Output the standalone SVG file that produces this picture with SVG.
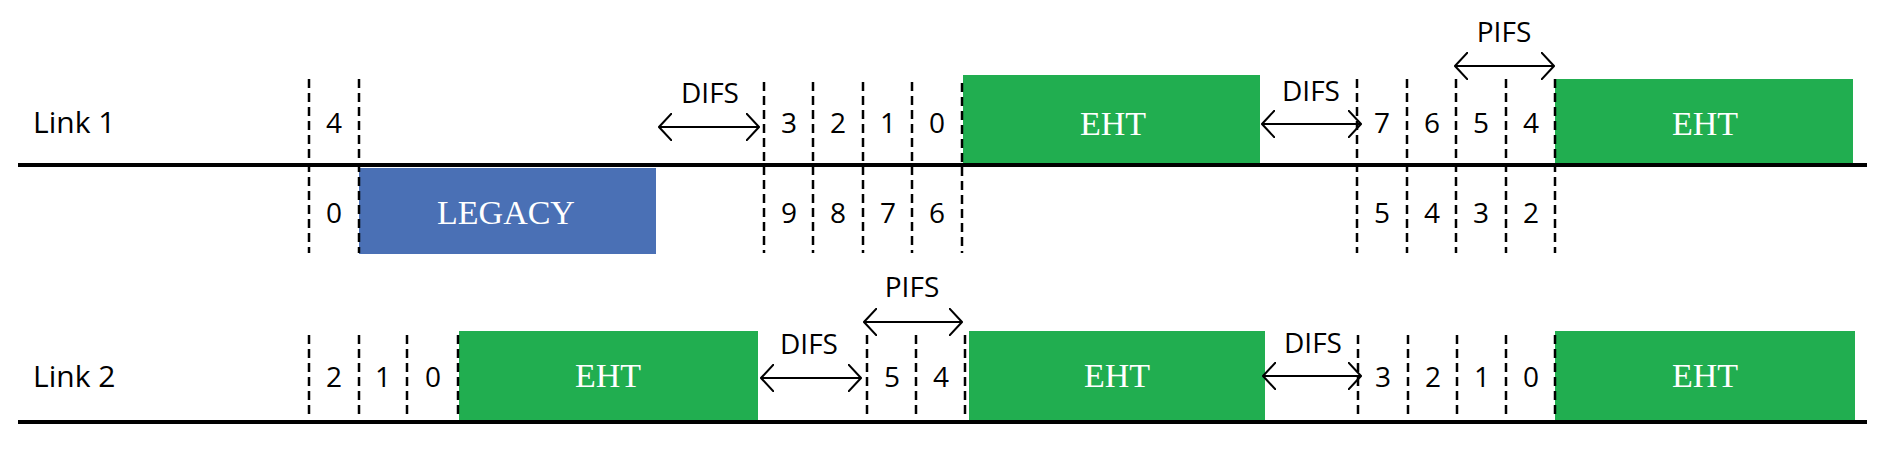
<svg xmlns="http://www.w3.org/2000/svg" width="1894" height="450" viewBox="0 0 1894 450">
<defs>
<style>
.d{stroke:#000;stroke-width:2.5;stroke-dasharray:9,5;fill:none}
.h{stroke:#000;stroke-width:4}
.a{stroke:#000;stroke-width:2;fill:none}
.n{font-family:"Open Sans","Liberation Sans",sans-serif;font-size:28px;text-anchor:middle;fill:#000}
.l{font-family:"Open Sans","Liberation Sans",sans-serif;font-size:30px;fill:#000}
.s{font-family:"Open Sans","Liberation Sans",sans-serif;font-size:28px;text-anchor:middle;fill:#000}
.b{font-family:"Liberation Serif",serif;font-size:34px;text-anchor:middle;fill:#fff}
.g{fill:#21ae50}
</style>
<marker id="m" viewBox="0 0 14 28" refX="13" refY="14" markerWidth="14" markerHeight="28" markerUnits="userSpaceOnUse" orient="auto-start-reverse"><path d="M0,0 L13,14 L0,28" fill="none" stroke="#000" stroke-width="2"/></marker>
</defs>
<g id="boxes">
<rect id="legacy" x="359" y="168" width="297" height="86" fill="#4a70b5"/>
<rect id="eht1" class="g" x="963" y="75" width="297" height="88"/>
<rect id="eht2" class="g" x="1555" y="79" width="298" height="84"/>
<rect id="eht3" class="g" x="459" y="331" width="299" height="90"/>
<rect id="eht4" class="g" x="969" y="331" width="296" height="89"/>
<rect id="eht5" class="g" x="1555" y="331" width="300" height="89"/>
<text class="b" x="506" y="224">LEGACY</text>
<text class="b" x="1113" y="135">EHT</text>
<text class="b" x="1705" y="135">EHT</text>
<text class="b" x="608" y="387">EHT</text>
<text class="b" x="1117" y="387">EHT</text>
<text class="b" x="1705" y="387">EHT</text>
</g>
<g id="connectors">
<line class="h" x1="18" y1="165" x2="1867" y2="165"/>
<line class="h" x1="18" y1="422" x2="1867" y2="422"/>
<path class="d" d="M309,79V253M359,79V253M764,82V253M813,82V253M863,82V253M912,82V253M962,83V253M1357,79V253M1407,79V253M1456,79V253M1506,79V253M1555,79V253"/>
<path class="d" d="M309,335V418M359,335V418M407,335V418M458,335V418M867,335V418M916,335V418M965,335V418M1358,335V418M1408,335V418M1457,335V418M1506,335V418M1555,335V418"/>
<line class="a" x1="659" y1="127" x2="759" y2="127" marker-start="url(#m)" marker-end="url(#m)"/>
<line class="a" x1="1262" y1="124" x2="1361" y2="124" marker-start="url(#m)" marker-end="url(#m)"/>
<line class="a" x1="1455" y1="66" x2="1554" y2="66" marker-start="url(#m)" marker-end="url(#m)"/>
<line class="a" x1="864" y1="322" x2="962" y2="322" marker-start="url(#m)" marker-end="url(#m)"/>
<line class="a" x1="761" y1="378" x2="861" y2="378" marker-start="url(#m)" marker-end="url(#m)"/>
<line class="a" x1="1263" y1="376" x2="1361" y2="376" marker-start="url(#m)" marker-end="url(#m)"/>
</g>
<g id="labels">
<text class="l" x="33" y="133">Link 1</text>
<text class="l" x="33" y="387">Link 2</text>
<text class="s" x="710" y="103">DIFS</text>
<text class="s" x="1311" y="101">DIFS</text>
<text class="s" x="1504" y="42">PIFS</text>
<text class="s" x="912" y="297">PIFS</text>
<text class="s" x="809" y="354">DIFS</text>
<text class="s" x="1313" y="353">DIFS</text>
</g>
<g id="counters">
<text class="n" x="334" y="133">4</text>
<text class="n" x="789" y="133">3</text><text class="n" x="838" y="133">2</text><text class="n" x="888" y="133">1</text><text class="n" x="937" y="133">0</text>
<text class="n" x="1382" y="133">7</text><text class="n" x="1432" y="133">6</text><text class="n" x="1481" y="133">5</text><text class="n" x="1531" y="133">4</text>
<text class="n" x="334" y="223">0</text>
<text class="n" x="789" y="223">9</text><text class="n" x="838" y="223">8</text><text class="n" x="888" y="223">7</text><text class="n" x="937" y="223">6</text>
<text class="n" x="1382" y="223">5</text><text class="n" x="1432" y="223">4</text><text class="n" x="1481" y="223">3</text><text class="n" x="1531" y="223">2</text>
<text class="n" x="334" y="387">2</text><text class="n" x="383" y="387">1</text><text class="n" x="433" y="387">0</text>
<text class="n" x="892" y="387">5</text><text class="n" x="941" y="387">4</text>
<text class="n" x="1383" y="387">3</text><text class="n" x="1433" y="387">2</text><text class="n" x="1482" y="387">1</text><text class="n" x="1531" y="387">0</text>
</g>
</svg>
